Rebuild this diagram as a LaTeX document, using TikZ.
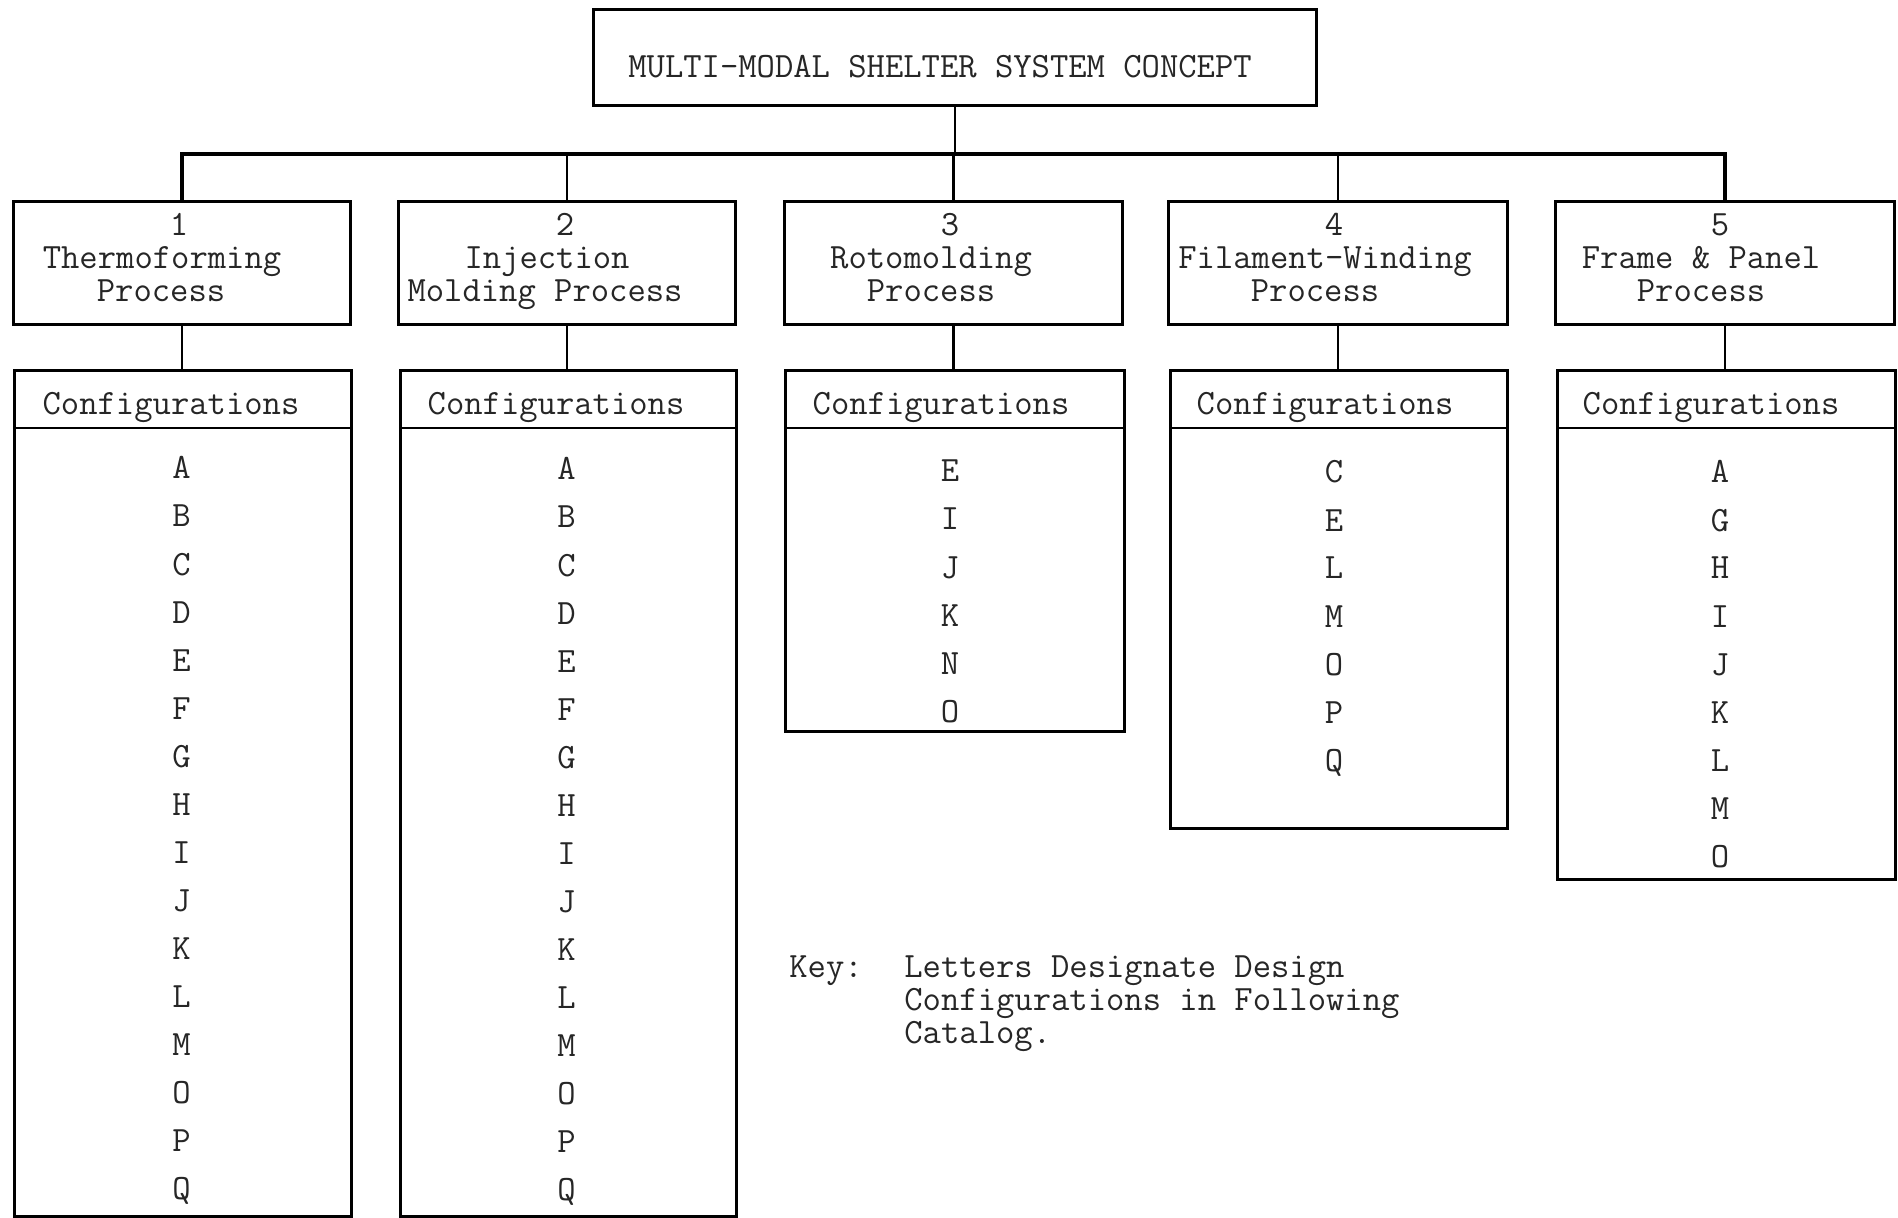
\documentclass[tikz,border=0pt]{standalone}
\begin{document}
\begin{tikzpicture}[x=0.5pt,y=-0.5pt,
  box/.style={draw, line width=1.3pt, rectangle, inner sep=0pt, anchor=north west},
  txt/.style={font=\ttfamily\fontsize{17.8}{17.8}\selectfont, inner sep=0pt, anchor=base, text=black!85},
  keytxt/.style={txt, anchor=base west},
  conn/.style={line width=1.3pt},
  busline/.style={line width=1.8pt}]
\useasboundingbox (0,0) rectangle (1898,1218);

% top box
\node[box, minimum width=361.5pt, minimum height=47.75pt] (top) at (592,8.5) {};
\node[txt] (toptxt) at (940,78) {MULTI-MODAL SHELTER SYSTEM CONCEPT};

% process boxes
\node[box, minimum width=168.5pt, minimum height=61.5pt] (p1) at (12,200) {};
\node[box, minimum width=168.5pt, minimum height=61.5pt] (p2) at (397,200) {};
\node[box, minimum width=169pt, minimum height=61.5pt] (p3) at (783,200) {};
\node[box, minimum width=169.5pt, minimum height=61.5pt] (p4) at (1167,200) {};
\node[box, minimum width=169.5pt, minimum height=61.5pt] (p5) at (1554,200) {};

\node[txt] (p1a) at (179,236) {1};
\node[txt] (p1b) at (162,269) {Thermoforming};
\node[txt] (p1c) at (161,302) {Process};
\node[txt] (p2a) at (565,236) {2};
\node[txt] (p2b) at (547,269) {Injection};
\node[txt] (p2c) at (545,302) {Molding Process};
\node[txt] (p3a) at (950,236) {3};
\node[txt] (p3b) at (931,269) {Rotomolding};
\node[txt] (p3c) at (931,302) {Process};
\node[txt] (p4a) at (1334,236) {4};
\node[txt] (p4b) at (1325,269) {Filament-Winding};
\node[txt] (p4c) at (1315,302) {Process};
\node[txt] (p5a) at (1720,236) {5};
\node[txt] (p5b) at (1701,269) {Frame \& Panel};
\node[txt] (p5c) at (1701,302) {Process};

% configuration boxes
\node[box, minimum width=168.5pt, minimum height=423pt] (c1) at (13,369) {};
\node[box, minimum width=168pt, minimum height=423pt] (c2) at (399,369) {};
\node[box, minimum width=169.5pt, minimum height=180.5pt] (c3) at (784,369) {};
\node[box, minimum width=168.5pt, minimum height=229pt] (c4) at (1169,369) {};
\node[box, minimum width=169pt, minimum height=254.5pt] (c5) at (1556,369) {};

\foreach \c in {c1,c2,c3,c4,c5}{
  \draw[conn] ([yshift=-29.5pt]\c.north west) -- ([yshift=-29.5pt]\c.north east);
}

\node[txt] (h1) at (171,415) {Configurations};
\node[txt] (h2) at (556,415) {Configurations};
\node[txt] (h3) at (941,415) {Configurations};
\node[txt] (h4) at (1325,415) {Configurations};
\node[txt] (h5) at (1711,415) {Configurations};

\foreach \l [count=\i from 0] in {A,B,C,D,E,F,G,H,I,J,K,L,M,O,P,Q}{
  \node[txt] (la\i) at (181.5,479+48*\i) {\l};
  \node[txt] (lb\i) at (566.5,480+48*\i) {\l};
}
\foreach \l [count=\i from 0] in {E,I,J,K,N,O}{
  \node[txt] (lc\i) at (950,482+48*\i) {\l};
}
\foreach \l [count=\i from 0] in {C,E,L,M,O,P,Q}{
  \node[txt] (ld\i) at (1334,483+48*\i) {\l};
}
\foreach \l [count=\i from 0] in {A,G,H,I,J,K,L,M,O}{
  \node[txt] (le\i) at (1720,483+48*\i) {\l};
}

% connectors
\coordinate (bus) at (0,154);
\draw[conn] (top.south) -- (top.south |- bus);
\draw[busline] (p1.north) -- (p1.north |- bus) -- (p5.north |- bus) -- (p5.north);
\draw[conn] (p2.north) -- (p2.north |- bus);
\draw[conn] (p3.north) -- (p3.north |- bus);
\draw[conn] (p4.north) -- (p4.north |- bus);
\draw[conn] (p1.south) -- (p1.south |- c1.north);
\draw[conn] (p2.south) -- (p2.south |- c2.north);
\draw[conn] (p3.south) -- (p3.south |- c3.north);
\draw[conn] (p4.south) -- (p4.south |- c4.north);
\draw[conn] (p5.south) -- (p5.south |- c5.north);

% key
\node[keytxt] (key) at (789,977) {Key:};
\node[keytxt] (k1) at (904,977) {Letters Designate Design};
\node[keytxt] (k2) at (904,1010) {Configurations in Following};
\node[keytxt] (k3) at (904,1043) {Catalog.};
\end{tikzpicture}
\end{document}
